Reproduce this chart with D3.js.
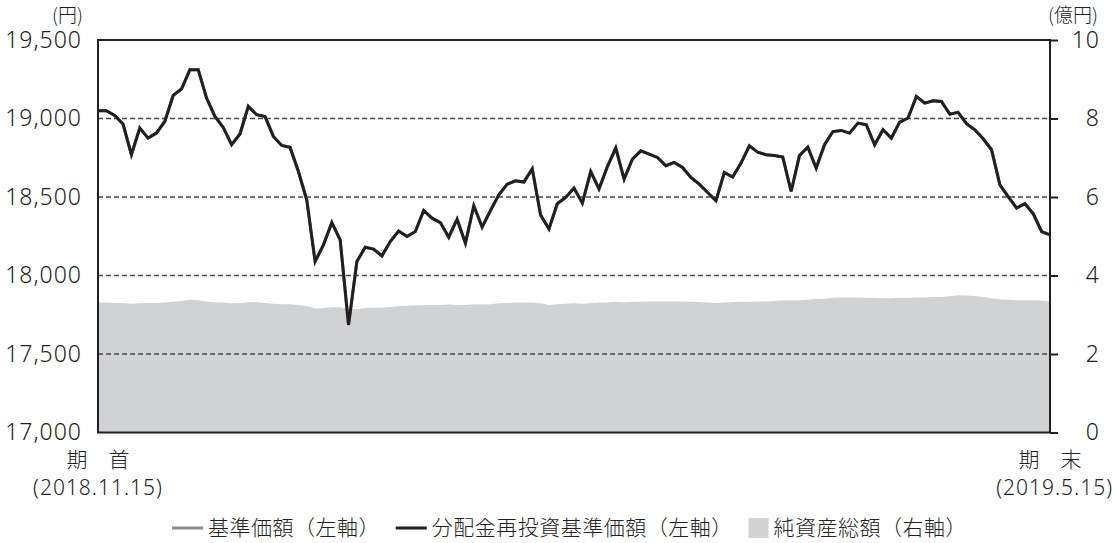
<!DOCTYPE html>
<html lang="ja">
<head>
<meta charset="utf-8">
<title>基準価額の推移</title>
<script src="https://d3js.org/d3.v7.min.js"></script>
<style>
  body { margin: 0; background: #fff; }
  text { font-family: "Noto Sans", "Noto Sans CJK JP", sans-serif; fill: #231f20; }
  .jp { font-family: "Noto Sans CJK JP", sans-serif; font-weight: 300; }
</style>
</head>
<body>
<script>

// data (one point per business day, 2018.11.15 - 2019.5.15)

const navValues = [
  19049, 19049, 19020, 18965, 18769, 18939, 18875, 18907, 18981, 19147,
  19188, 19311, 19311, 19130, 19013, 18943, 18833, 18901, 19077, 19024,
  19013, 18886, 18828, 18816, 18662, 18480, 18089, 18195, 18337, 18227,
  17685, 18089, 18180, 18168, 18125, 18216, 18284, 18248, 18280, 18414,
  18365, 18337, 18244, 18359, 18206, 18444, 18308, 18414, 18514, 18582,
  18603, 18595, 18680, 18386, 18297, 18457, 18497, 18557, 18461, 18662,
  18552, 18694, 18812, 18614, 18742, 18794, 18773, 18752, 18699, 18720,
  18688, 18624, 18582, 18529, 18476, 18656, 18627, 18716, 18826, 18786,
  18769, 18764, 18754, 18535, 18764, 18818, 18684, 18833, 18917, 18924,
  18907, 18971, 18960, 18833, 18928, 18875, 18977, 19003, 19141, 19098,
  19113, 19109, 19028, 19039, 18967, 18928, 18871, 18801, 18578, 18503,
  18429, 18457, 18393, 18280, 18259
];

// no distributions in the period, so the reinvested series is the same
const reinvestValues = navValues;

const netAssets = [
  3.31, 3.31, 3.30, 3.30, 3.28, 3.29, 3.30, 3.30, 3.31, 3.33,
  3.35, 3.38, 3.37, 3.34, 3.32, 3.31, 3.29, 3.30, 3.32, 3.32,
  3.30, 3.28, 3.27, 3.27, 3.25, 3.22, 3.16, 3.17, 3.19, 3.19,
  3.15, 3.14, 3.17, 3.18, 3.18, 3.20, 3.22, 3.23, 3.24, 3.24,
  3.25, 3.25, 3.26, 3.25, 3.25, 3.27, 3.26, 3.27, 3.29, 3.30,
  3.31, 3.31, 3.31, 3.29, 3.25, 3.27, 3.28, 3.29, 3.28, 3.29,
  3.31, 3.31, 3.33, 3.32, 3.33, 3.33, 3.34, 3.34, 3.34, 3.34,
  3.34, 3.33, 3.32, 3.31, 3.30, 3.31, 3.32, 3.33, 3.33, 3.34,
  3.34, 3.35, 3.37, 3.36, 3.37, 3.38, 3.40, 3.41, 3.43, 3.44,
  3.44, 3.44, 3.43, 3.43, 3.42, 3.42, 3.43, 3.43, 3.44, 3.44,
  3.45, 3.45, 3.47, 3.50, 3.49, 3.48, 3.45, 3.42, 3.39, 3.38,
  3.37, 3.37, 3.37, 3.36, 3.34
];

const leftTicks = [17000, 17500, 18000, 18500, 19000, 19500];
const rightTicks = [0, 2, 4, 6, 8, 10];
const gridTicks = [17500, 18000, 18500, 19000];
const startLabel = ["期　首", "(2018.11.15)"];
const endLabel = ["期　末", "(2019.5.15)"];
const legendItems = ["基準価額（左軸）", "分配金再投資基準価額（左軸）", "純資産総額（右軸）"];

const w = 1117;
const h = 543;
const margin = {top: 40, right: 67, bottom: 110.5, left: 98};
const innerWidth = w - margin.left - margin.right;
const innerHeight = h - margin.top - margin.bottom;

const dark = "#231f20";
const areaGray = "#d1d2d4";

const xScale = d3.scaleLinear()
    .domain([0, navValues.length - 1])
    .range([0, innerWidth]);

const yLeft = d3.scaleLinear()
    .domain([17000, 19500])
    .range([innerHeight, 0]);

const yRight = d3.scaleLinear()
    .domain([0, 10])
    .range([innerHeight, 0]);

const svg = d3.select("body")
  .append("svg")
    .attr("width", w)
    .attr("height", h);

const plot = svg.append("g")
    .attr("transform", `translate(${margin.left}, ${margin.top})`);

// net assets area (right axis)

const area = d3.area()
    .x((d, i) => xScale(i))
    .y0(innerHeight)
    .y1(d => yRight(d));

plot.append("path")
    .datum(netAssets)
    .attr("d", area)
    .attr("fill", areaGray);

// dashed grid

plot.selectAll("line.grid")
    .data(gridTicks)
  .enter().append("line")
    .attr("class", "grid")
    .attr("x1", 0)
    .attr("x2", innerWidth)
    .attr("y1", d => yLeft(d))
    .attr("y2", d => yLeft(d))
    .attr("stroke", "#4a4a4a")
    .attr("stroke-width", 1.3)
    .attr("stroke-dasharray", "5,3");

// lines

const line = d3.line()
    .x((d, i) => xScale(i))
    .y(d => yLeft(d));

plot.append("path")
    .datum(navValues)
    .attr("d", line)
    .attr("fill", "none")
    .attr("stroke", "#8c8c8c")
    .attr("stroke-width", 3);

plot.append("path")
    .datum(reinvestValues)
    .attr("d", line)
    .attr("fill", "none")
    .attr("stroke", dark)
    .attr("stroke-width", 3)
    .attr("stroke-linejoin", "miter");

// frame

plot.append("rect")
    .attr("x", 0)
    .attr("y", 0)
    .attr("width", innerWidth)
    .attr("height", innerHeight)
    .attr("fill", "none")
    .attr("stroke", dark)
    .attr("stroke-width", 2);

// left axis (labels only)

const yAxisLeft = d3.axisLeft(yLeft)
    .tickValues(leftTicks)
    .tickSize(0)
    .tickPadding(16)
    .tickFormat(d3.format(","));

plot.append("g")
    .attr("class", "yAxisLeft")
    .call(yAxisLeft)
    .call(g => g.select(".domain").remove())
    .selectAll("text")
    .attr("font-size", 23)
    .attr("font-weight", 300)
    .attr("letter-spacing", 1)
    .attr("fill", dark);

// right axis

const yAxisRight = d3.axisRight(yRight)
    .tickValues(rightTicks)
    .tickSize(8)
    .tickPadding(42);

const ra = plot.append("g")
    .attr("class", "yAxisRight")
    .attr("transform", `translate(${innerWidth}, 0)`)
    .call(yAxisRight);
ra.select(".domain").remove();
ra.selectAll("line").attr("stroke", dark).attr("stroke-width", 2);
ra.selectAll("text")
    .attr("text-anchor", "end")
    .attr("font-size", 23)
    .attr("font-weight", 300)
    .attr("letter-spacing", 1)
    .attr("fill", dark);

// units

svg.append("text")
    .attr("class", "jp")
    .attr("x", 83)
    .attr("y", 22)
    .attr("text-anchor", "end")
    .attr("font-size", 19)
    .text("(円)");

svg.append("text")
    .attr("class", "jp")
    .attr("x", 1098)
    .attr("y", 22)
    .attr("text-anchor", "end")
    .attr("font-size", 19)
    .text("(億円)");

// period labels

[[0, startLabel, "middle", 0], [navValues.length - 1, endLabel, "end", 63]].forEach(([i, lab, anchor, dx]) => {
  const x = margin.left + xScale(i);
  svg.append("text")
      .attr("class", "jp")
      .attr("x", x)
      .attr("y", 467)
      .attr("text-anchor", "middle")
      .attr("font-size", 21)
      .text(lab[0]);
  svg.append("text")
      .attr("x", x + dx)
      .attr("y", 495)
      .attr("text-anchor", anchor)
      .attr("font-size", 21)
      .attr("font-weight", 300)
      .attr("letter-spacing", 1)
      .text(lab[1]);
});

// legend, spread between x=172 and x=967

const legend = svg.append("g").attr("class", "legend");
const ly = 528;
const markerW = [36, 36, 25];
const texts = legendItems.map((label, i) => legend.append("text")
    .attr("class", "jp")
    .attr("y", ly + 7)
    .attr("font-size", 21)
    .attr("letter-spacing", 0.5)
    .text(label));
const textW = texts.map(t => t.node().getComputedTextLength());
const gap = (967 - 172 - d3.sum(markerW) - d3.sum(textW)) / 2;
let lx = 172;
legendItems.forEach((label, i) => {
  if (i < 2) {
    legend.append("line")
        .attr("x1", lx)
        .attr("x2", lx + 31)
        .attr("y1", ly)
        .attr("y2", ly)
        .attr("stroke", i === 0 ? "#8c8c8c" : dark)
        .attr("stroke-width", 3);
  } else {
    legend.append("rect")
        .attr("x", lx)
        .attr("y", ly - 10)
        .attr("width", 20)
        .attr("height", 20)
        .attr("fill", areaGray);
  }
  texts[i].attr("x", lx + markerW[i]);
  lx += markerW[i] + textW[i] + gap;
});

</script>
</body>
</html>
